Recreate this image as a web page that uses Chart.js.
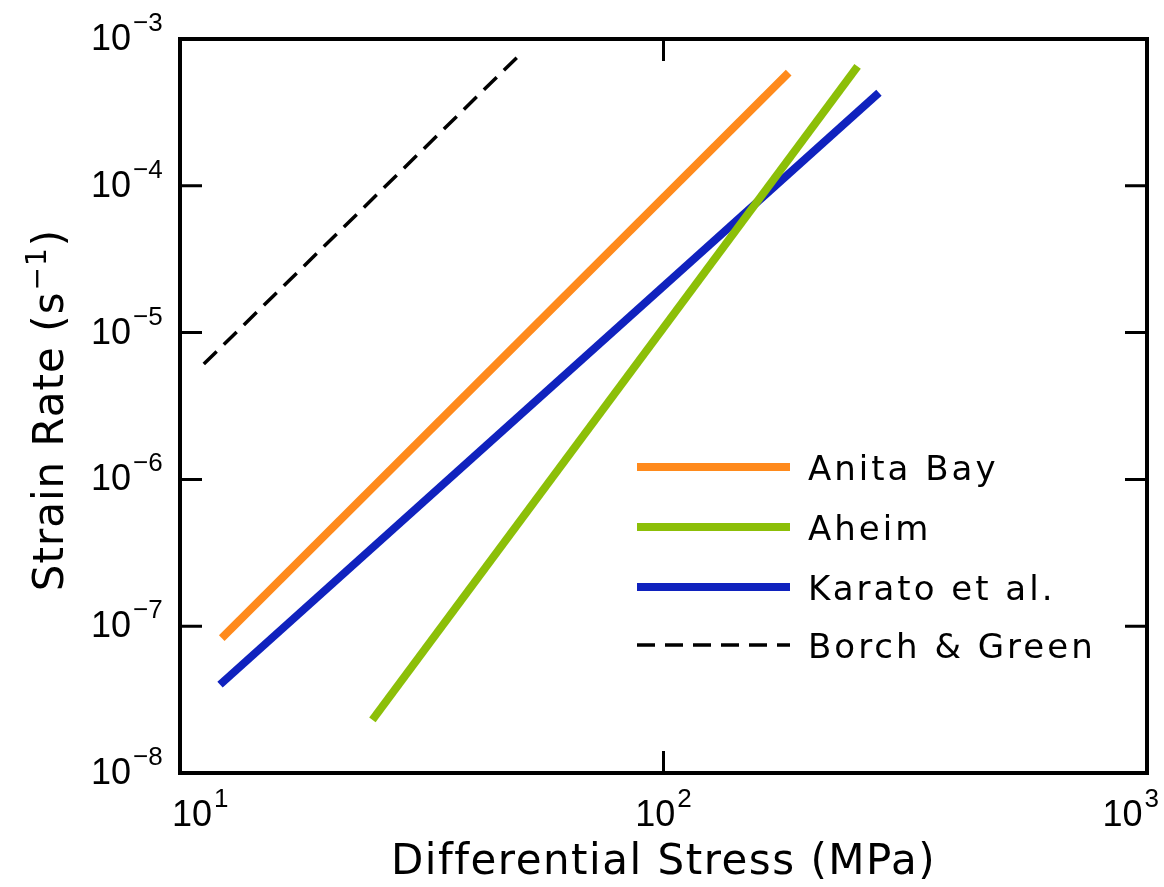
<!DOCTYPE html>
<html><head><meta charset="utf-8">
<script src="https://cdn.jsdelivr.net/npm/chart.js@4"></script>
<style>html,body{margin:0;padding:0;background:#fff}#wrap{width:1164px;height:887px}</style>
</head><body><div id="wrap"><canvas id="c" width="1164" height="887"></canvas></div>
<script>
// ---- data ----
const seriesNames = ['Anita Bay', 'Aheim', 'Karato et al.', 'Borch & Green'];
const anitaBayStress = [12.2, 181.5];
const anitaBayRate = [8.3e-8, 5.9e-4];
const aheimStress = [25.0, 252];
const aheimRate = [2.3e-8, 6.5e-4];
const karatoStress = [12.1, 279];
const karatoRate = [4.0e-8, 4.3e-4];
const borchGreenStress = [11.2, 50];
const borchGreenRate = [6.1e-6, 7.6e-4];
const xTickValues = [10, 100, 1000];
const xTickExponents = ['1', '2', '3'];
const yTickValues = [1e-8, 1e-7, 1e-6, 1e-5, 1e-4, 1e-3];
const yTickExponents = ['\u22128', '\u22127', '\u22126', '\u22125', '\u22124', '\u22123'];
const xTitle = 'Differential Stress (MPa)';
const yTitleMain = 'Strain Rate (s';
const yTitleSup = '\u22121';
const yTitleEnd = ')';

const pts = (xs, ys) => xs.map((x, i) => ({x: x, y: ys[i]}));

const datasets = [
  {label: seriesNames[0], data: pts(anitaBayStress, anitaBayRate), borderColor: '#FF8A1C', borderWidth: 8, borderDash: []},
  {label: seriesNames[1], data: pts(aheimStress, aheimRate), borderColor: '#8CBF08', borderWidth: 8, borderDash: []},
  {label: seriesNames[2], data: pts(karatoStress, karatoRate), borderColor: '#1022BE', borderWidth: 8, borderDash: []},
  {label: seriesNames[3], data: pts(borchGreenStress, borchGreenRate), borderColor: '#000000', borderWidth: 3.5, borderDash: [18, 10]}
].map(d => Object.assign(d, {showLine: true, pointRadius: 0, fill: false, borderCapStyle: 'butt', tension: 0}));

const BASE_FONT = '36px "Liberation Sans", Arial, sans-serif';
const SUP_FONT = '26px "Liberation Sans", Arial, sans-serif';
const WORD_FONT = '"DejaVu Sans", sans-serif';

function drawPow(ctx, exp, x, baseY, align) {
  ctx.font = BASE_FONT;
  const wb = ctx.measureText('10').width;
  ctx.font = SUP_FONT;
  const we = ctx.measureText(exp).width;
  const gap = 2;
  const total = wb + gap + we;
  let left = x;
  if (align === 'center') left = x - total / 2;
  return {total: total, draw: function (l) {
    ctx.textAlign = 'left';
    ctx.textBaseline = 'alphabetic';
    ctx.font = BASE_FONT;
    ctx.fillText('10', l, baseY);
    ctx.font = SUP_FONT;
    ctx.fillText(exp, l + wb + gap, baseY - 19);
  }, left: left};
}

const framePlugin = {
  id: 'framePlugin',
  afterDraw(chart) {
    const ctx = chart.ctx;
    const ca = chart.chartArea;
    const xs = chart.scales.x, ys = chart.scales.y;
    ctx.save();
    ctx.fillStyle = '#000';
    ctx.strokeStyle = '#000';
    // frame
    ctx.lineWidth = 4;
    ctx.setLineDash([]);
    ctx.strokeRect(ca.left, ca.top, ca.right - ca.left, ca.bottom - ca.top);
    // inward ticks
    ctx.lineWidth = 3;
    const TL = 22;
    yTickValues.forEach(v => {
      const py = ys.getPixelForValue(v);
      if (py > ca.top + 2 && py < ca.bottom - 2) {
        ctx.beginPath();
        ctx.moveTo(ca.left, py); ctx.lineTo(ca.left + TL, py);
        ctx.moveTo(ca.right, py); ctx.lineTo(ca.right - TL, py);
        ctx.stroke();
      }
    });
    xTickValues.forEach(v => {
      const px = xs.getPixelForValue(v);
      if (px > ca.left + 2 && px < ca.right - 2) {
        ctx.beginPath();
        ctx.moveTo(px, ca.bottom); ctx.lineTo(px, ca.bottom - TL);
        ctx.moveTo(px, ca.top); ctx.lineTo(px, ca.top + TL);
        ctx.stroke();
      }
    });
    // x tick labels
    xTickValues.forEach((v, i) => {
      const px = xs.getPixelForValue(v);
      const p = drawPow(ctx, xTickExponents[i], px, 826, 'center');
      let l = p.left;
      l = Math.max(l, ca.left - 8);
      l = Math.min(l, ca.right + 12 - p.total);
      p.draw(l);
    });
    // y tick labels
    yTickValues.forEach((v, i) => {
      const py = ys.getPixelForValue(v);
      const p = drawPow(ctx, yTickExponents[i], 91, py + 11, 'left');
      p.draw(91);
    });
    // x title
    ctx.font = '42px ' + WORD_FONT;
    ctx.letterSpacing = '1.5px';
    ctx.textAlign = 'center';
    ctx.textBaseline = 'alphabetic';
    ctx.fillText(xTitle, (ca.left + ca.right) / 2, 874);
    // y title (rotated)
    ctx.save();
    ctx.translate(63, 410);
    ctx.rotate(-Math.PI / 2);
    ctx.textAlign = 'left';
    ctx.letterSpacing = '1px';
    ctx.font = '42px ' + WORD_FONT;
    const w1 = ctx.measureText(yTitleMain).width;
    const w3 = ctx.measureText(yTitleEnd).width;
    ctx.font = '28px ' + WORD_FONT;
    const w2 = ctx.measureText(yTitleSup).width;
    const tot = w1 + w2 + w3 + 2;
    let sx = -tot / 2;
    ctx.font = '42px ' + WORD_FONT;
    ctx.fillText(yTitleMain, sx, 0);
    ctx.font = '28px ' + WORD_FONT;
    ctx.fillText(yTitleSup, sx + w1 + 1, -17);
    ctx.font = '42px ' + WORD_FONT;
    ctx.fillText(yTitleEnd, sx + w1 + w2 + 2, 0);
    ctx.restore();
    // legend inside plot
    const rows = [467, 527, 587, 645];
    chart.data.datasets.forEach((d, i) => {
      const y = rows[i];
      ctx.beginPath();
      ctx.strokeStyle = d.borderColor;
      ctx.lineWidth = d.borderWidth;
      ctx.lineCap = 'butt';
      ctx.setLineDash(d.borderDash || []);
      ctx.moveTo(637, y); ctx.lineTo(790, y);
      ctx.stroke();
      ctx.setLineDash([]);
      ctx.fillStyle = '#000';
      ctx.font = '34px ' + WORD_FONT;
      ctx.letterSpacing = '3px';
      ctx.textAlign = 'left';
      ctx.textBaseline = 'alphabetic';
      ctx.fillText(d.label, 808, y + 13);
    });
    ctx.letterSpacing = '0px';
    ctx.restore();
  }
};

new Chart(document.getElementById('c'), {
  type: 'scatter',
  data: {datasets: datasets},
  options: {
    responsive: false,
    devicePixelRatio: 1,
    animation: false,
    events: [],
    layout: {padding: {left: 180, right: 17, top: 39, bottom: 114}},
    scales: {
      x: {type: 'logarithmic', min: 10, max: 1000, display: false},
      y: {type: 'logarithmic', min: 1e-8, max: 1e-3, display: false}
    },
    plugins: {legend: {display: false}, tooltip: {enabled: false}, title: {display: false}}
  },
  plugins: [framePlugin]
});
</script>
</body></html>
